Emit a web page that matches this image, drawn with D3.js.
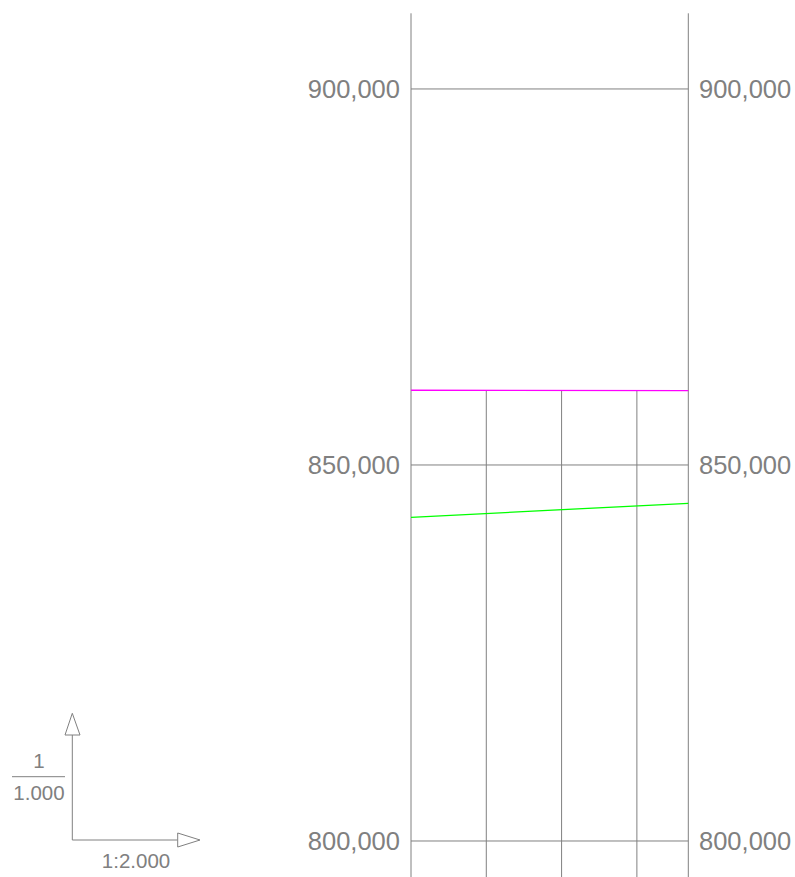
<!DOCTYPE html>
<html><head><meta charset="utf-8">
<script src="https://cdn.jsdelivr.net/npm/d3@7"></script>
<style>body{margin:0;background:#fff}svg{display:block}</style>
</head><body>
<script>
// data
const yTicks = [800000, 850000, 900000];
const yDomain = [795213, 910060];
const xDomain = [0, 73.66];
const stations = [20, 40, 60];
const magentaLine = [{x: 0, y: 859934}, {x: 73.66, y: 859880}];
const greenLine = [{x: 0, y: 843045}, {x: 73.66, y: 844906}];
const scaleV = ["1", "1.000"];
const scaleH = "1:2.000";

const W = 795, H = 877;
const svg = d3.select("body").append("svg").attr("width", W).attr("height", H);
const x = d3.scaleLinear().domain(xDomain).range([411, 688.3]);
const y = d3.scaleLinear().domain(yDomain).range([877, 13.3]);
const grey = "#808080";
const font = "'Liberation Sans', Arial, sans-serif";

// gridlines
svg.append("g").selectAll("line").data(yTicks).join("line")
  .attr("x1", x(xDomain[0])).attr("x2", x(xDomain[1]))
  .attr("y1", d => y(d)).attr("y2", d => y(d))
  .attr("stroke", grey).attr("stroke-width", 1);

// station lines below magenta
const magY = d3.scaleLinear().domain([magentaLine[0].x, magentaLine[1].x]).range([magentaLine[0].y, magentaLine[1].y]);
svg.append("g").selectAll("line").data(stations).join("line")
  .attr("x1", d => x(d)).attr("x2", d => x(d))
  .attr("y1", d => y(magY(d))).attr("y2", y(yDomain[0]))
  .attr("stroke", grey).attr("stroke-width", 1);

// outer verticals
svg.append("g").selectAll("line").data(xDomain).join("line")
  .attr("x1", d => x(d)).attr("x2", d => x(d))
  .attr("y1", y(yDomain[1])).attr("y2", y(yDomain[0]))
  .attr("stroke", grey).attr("stroke-width", 1);

const line = d3.line().x(d => x(d.x)).y(d => y(d.y));
svg.append("path").datum(magentaLine).attr("d", line).attr("fill", "none").attr("stroke", "#ff00ff").attr("stroke-width", 1.3);
svg.append("path").datum(greenLine).attr("d", line).attr("fill", "none").attr("stroke", "#00ff00").attr("stroke-width", 1.3);

// axes labels
const fmt = d3.format(",");
svg.append("g").selectAll("text").data(yTicks).join("text")
  .attr("x", 400).attr("y", d => y(d)).attr("dy", "0.35em")
  .attr("text-anchor", "end").attr("font-family", font).attr("font-size", 25.5)
  .attr("fill", grey).text(d => fmt(d));
svg.append("g").selectAll("text").data(yTicks).join("text")
  .attr("x", 699).attr("y", d => y(d)).attr("dy", "0.35em")
  .attr("text-anchor", "start").attr("font-family", font).attr("font-size", 25.5)
  .attr("fill", grey).text(d => fmt(d));

// scale legend
const lg = svg.append("g").attr("stroke", grey).attr("fill", "none").attr("stroke-width", 1);
lg.append("line").attr("x1", 72.3).attr("x2", 72.3).attr("y1", 840).attr("y2", 735);
lg.append("path").attr("d", "M72.3,713.3 L80,735 L65,735 Z").attr("fill", "#fff");
lg.append("line").attr("x1", 72.3).attr("x2", 177.7).attr("y1", 840).attr("y2", 840);
lg.append("path").attr("d", "M200,840 L177.7,847 L177.7,833 Z").attr("fill", "#fff");
lg.append("line").attr("x1", 12).attr("x2", 65).attr("y1", 776.7).attr("y2", 776.7);
const tf = svg.append("g").attr("fill", grey).attr("font-family", font).attr("font-size", 20.5).attr("text-anchor", "middle");
tf.append("text").attr("x", 39).attr("y", 768).text(scaleV[0]);
tf.append("text").attr("x", 39).attr("y", 800).text(scaleV[1]);
tf.append("text").attr("x", 136).attr("y", 868).text(scaleH);
</script>
</body></html>
